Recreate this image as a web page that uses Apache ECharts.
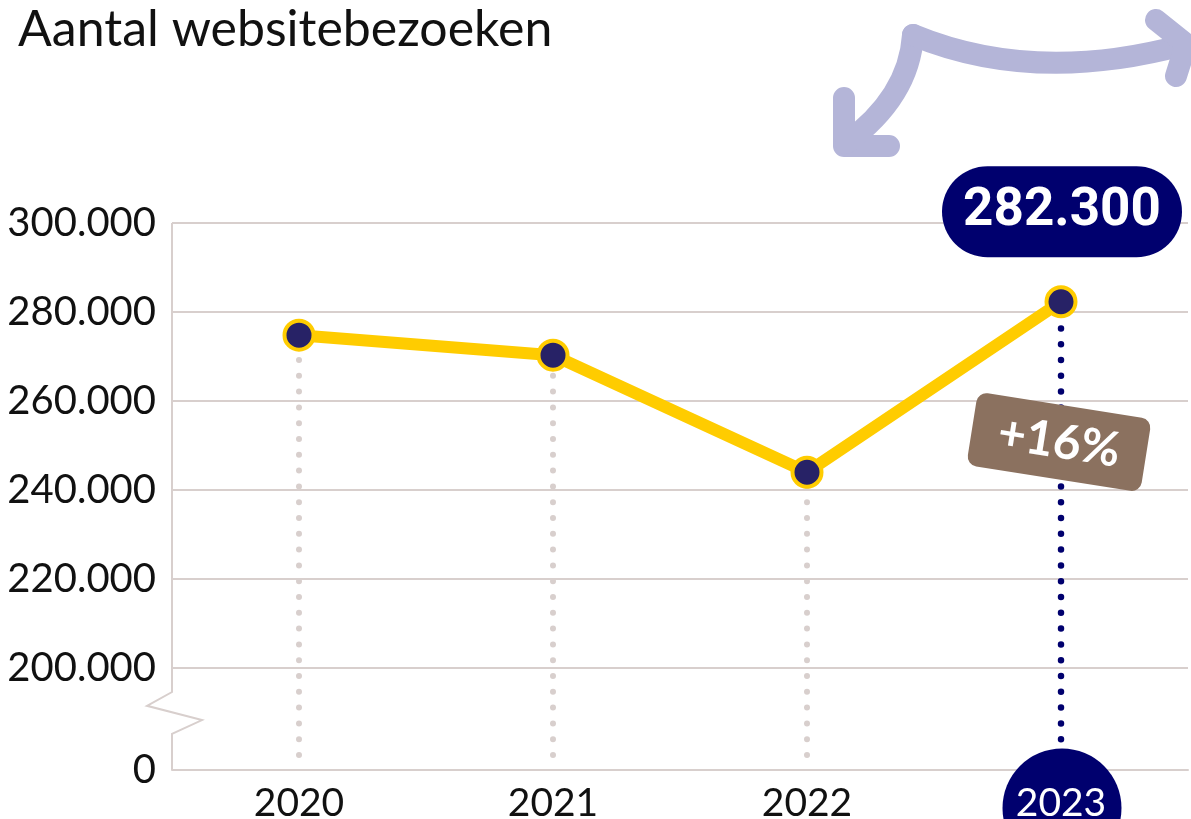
<!DOCTYPE html>
<html><head><meta charset="utf-8">
<script src="https://cdn.jsdelivr.net/npm/echarts@6/dist/echarts.min.js"></script>
<style>html,body{margin:0;padding:0;background:#fff}#c{width:1191px;height:819px}</style>
</head><body><div id="c"></div>
<script>
// ---- data ----
const titleText = 'Aantal websitebezoeken';
const years = ['2020', '2021', '2022', '2023'];
const visits = [274800, 270300, 244000, 282300];
const tickValues = [0, 200000, 220000, 240000, 260000, 280000, 300000];
const highlightIndex = 3;   // 2023
const compareIndex = 2;     // 2022 (basis for +16%)

// ---- broken axis transform (0 .. 200.000 squeezed) ----
const BREAK_LOW = 200000;
const STEP = 20000;
const B = 1.145;            // axis units used by the 0..200.000 segment
function t(v) { return v >= BREAK_LOW ? B + (v - BREAK_LOW) / STEP : v / BREAK_LOW * B; }
function inv(u) { return u >= B - 1e-6 ? BREAK_LOW + (u - B) * STEP : u / B * BREAK_LOW; }
function fmt(v) { return String(Math.round(v)).replace(/\B(?=(\d{3})+(?!\d))/g, '.'); }

const GRID = '#D8CFCD';
const NAVY = '#00006E';
const DOT_NAVY = '#272266';
const YELLOW = '#FFCC00';
const BROWN = '#8B715F';
const LAVENDER = '#B4B5D8';
const FONT = 'Lato, "Open Sans", sans-serif';
const X_LABEL_MARGIN = 14;
const X_LABEL_SIZE = 39;

const pct = Math.round((visits[highlightIndex] / visits[compareIndex] - 1) * 100);

const chart = echarts.init(document.getElementById('c'), null, { renderer: 'canvas' });

const arrowStyle = { fill: 'none', stroke: LAVENDER, lineWidth: 22, lineCap: 'round', lineJoin: 'round' };

const option = {
  animation: false,
  backgroundColor: '#fff',
  title: {
    text: titleText, left: 13, top: 0,
    textStyle: { fontFamily: FONT, fontSize: 50, fontWeight: 'normal', color: '#111' }
  },
  grid: { left: 172, right: 3, top: 223, bottom: 49, outerBoundsMode: 'none', containLabel: false },
  xAxis: {
    type: 'category', data: years, boundaryGap: true,
    axisLine: { show: true, lineStyle: { color: GRID, width: 2 } },
    axisTick: { show: false },
    axisLabel: {
      margin: X_LABEL_MARGIN, fontFamily: FONT, fontSize: X_LABEL_SIZE, color: '#111',
      formatter: (val, idx) => idx === highlightIndex ? '' : val
    },
    splitLine: { show: false }
  },
  yAxis: {
    type: 'value', min: 0, max: t(300000),
    axisLine: { show: false }, axisTick: { show: false },
    splitLine: { show: false },
    axisLabel: {
      customValues: tickValues.map(t),
      margin: 16, fontFamily: FONT, fontSize: 40, color: '#111',
      formatter: u => fmt(inv(u))
    }
  },
  graphic: [
    { type: 'polyline', z: 1, silent: true, shape: { points: [[844, 98], [844, 146], [889, 146]] }, style: arrowStyle },
    { type: 'bezierCurve', z: 1, silent: true, shape: { x1: 846, y1: 143, cpx1: 909, cpy1: 97, x2: 913, y2: 35 }, style: arrowStyle },
    { type: 'bezierCurve', z: 1, silent: true, shape: { x1: 913, y1: 35, cpx1: 1034, cpy1: 85, x2: 1183, y2: 45 }, style: arrowStyle },
    { type: 'polyline', z: 1, silent: true, shape: { points: [[1156, 20], [1186, 44], [1176, 76]] }, style: arrowStyle }
  ],
  series: [
    // horizontal grid lines + y axis line with break symbol
    {
      type: 'custom', z: 1, silent: true, clip: false,
      data: [[0]],
      renderItem: (params, api) => {
        const cs = params.coordSys;
        const x0 = cs.x, x1 = cs.x + cs.width;
        const children = [];
        tickValues.filter(v => v > 0).forEach(v => {
          const y = api.coord([0, t(v)])[1];
          children.push({ type: 'line', shape: { x1: x0, y1: y, x2: x1, y2: y },
            style: { stroke: GRID, lineWidth: 2 } });
        });
        const yTop = api.coord([0, t(300000)])[1];
        const y200 = api.coord([0, t(BREAK_LOW)])[1];
        const y0 = api.coord([0, 0])[1];
        const g = y0 - y200;
        children.push({ type: 'polyline', shape: { points: [
          [x0, yTop], [x0, y200 + g * 0.235], [x0 - 25, y200 + g * 0.37],
          [x0 + 30, y200 + g * 0.51], [x0, y200 + g * 0.645], [x0, y0]
        ] }, style: { stroke: GRID, lineWidth: 2, fill: 'none' } });
        return { type: 'group', children };
      }
    },
    // dotted drop lines
    {
      type: 'custom', z: 2, silent: true, clip: false,
      data: visits.map((v, i) => [i, t(v)]),
      renderItem: (params, api) => {
        const i = api.value(0);
        const top = api.coord([i, api.value(1)]);
        const base = api.coord([i, 0]);
        const hl = i === highlightIndex;
        return { type: 'line',
          shape: { x1: base[0], y1: base[1] - 15, x2: top[0], y2: top[1] },
          style: { stroke: hl ? NAVY : GRID, lineWidth: hl ? 6.5 : 6, lineDash: [0, 15.8], lineCap: 'round' } };
      }
    },
    // highlighted category badge (2023)
    {
      type: 'custom', z: 4, silent: true, clip: false,
      data: [[highlightIndex]],
      renderItem: (params, api) => {
        const i = api.value(0);
        const p = api.coord([i, 0]);
        return { type: 'group', children: [
          { type: 'circle', shape: { cx: p[0] + 1, cy: p[1] + 38, r: 59.5 }, style: { fill: NAVY } },
          { type: 'text', style: { text: years[i], x: p[0], y: p[1] + X_LABEL_MARGIN,
              fill: '#fff', fontFamily: FONT, fontSize: X_LABEL_SIZE, align: 'center', verticalAlign: 'top' } }
        ] };
      }
    },
    // main line
    {
      type: 'line', z: 3,
      data: visits.map((v, i) => i === highlightIndex ? {
        value: t(v),
        label: {
          show: true, position: 'inside', offset: [1, -90],
          formatter: () => fmt(visits[highlightIndex]),
          fontFamily: 'Roboto, sans-serif', fontWeight: 'bold', fontSize: 53, color: '#fff',
          backgroundColor: NAVY, borderRadius: 46,
          width: 240, height: 91, lineHeight: 91, align: 'center', verticalAlign: 'middle', padding: 0
        }
      } : t(v)),
      symbol: 'circle', symbolSize: 29,
      lineStyle: { color: YELLOW, width: 12 },
      itemStyle: { color: DOT_NAVY, borderColor: YELLOW, borderWidth: 4 },
      emphasis: { disabled: true },
      markPoint: {
        silent: true, animation: false,
        data: [
          {
            coord: [highlightIndex, t(250700)], symbol: 'rect', symbolSize: 0,
            label: {
              show: true, position: 'inside', offset: [-2, 0], rotate: -9,
              formatter: '+' + pct + '%',
              fontFamily: FONT, fontWeight: 'bold', fontSize: 48, color: '#fff',
              backgroundColor: BROWN, borderRadius: 10,
              width: 176, height: 74, lineHeight: 74, align: 'center', verticalAlign: 'middle', padding: 0
            }
          }
        ]
      }
    }
  ]
};
chart.setOption(option);
</script>
</body></html>
